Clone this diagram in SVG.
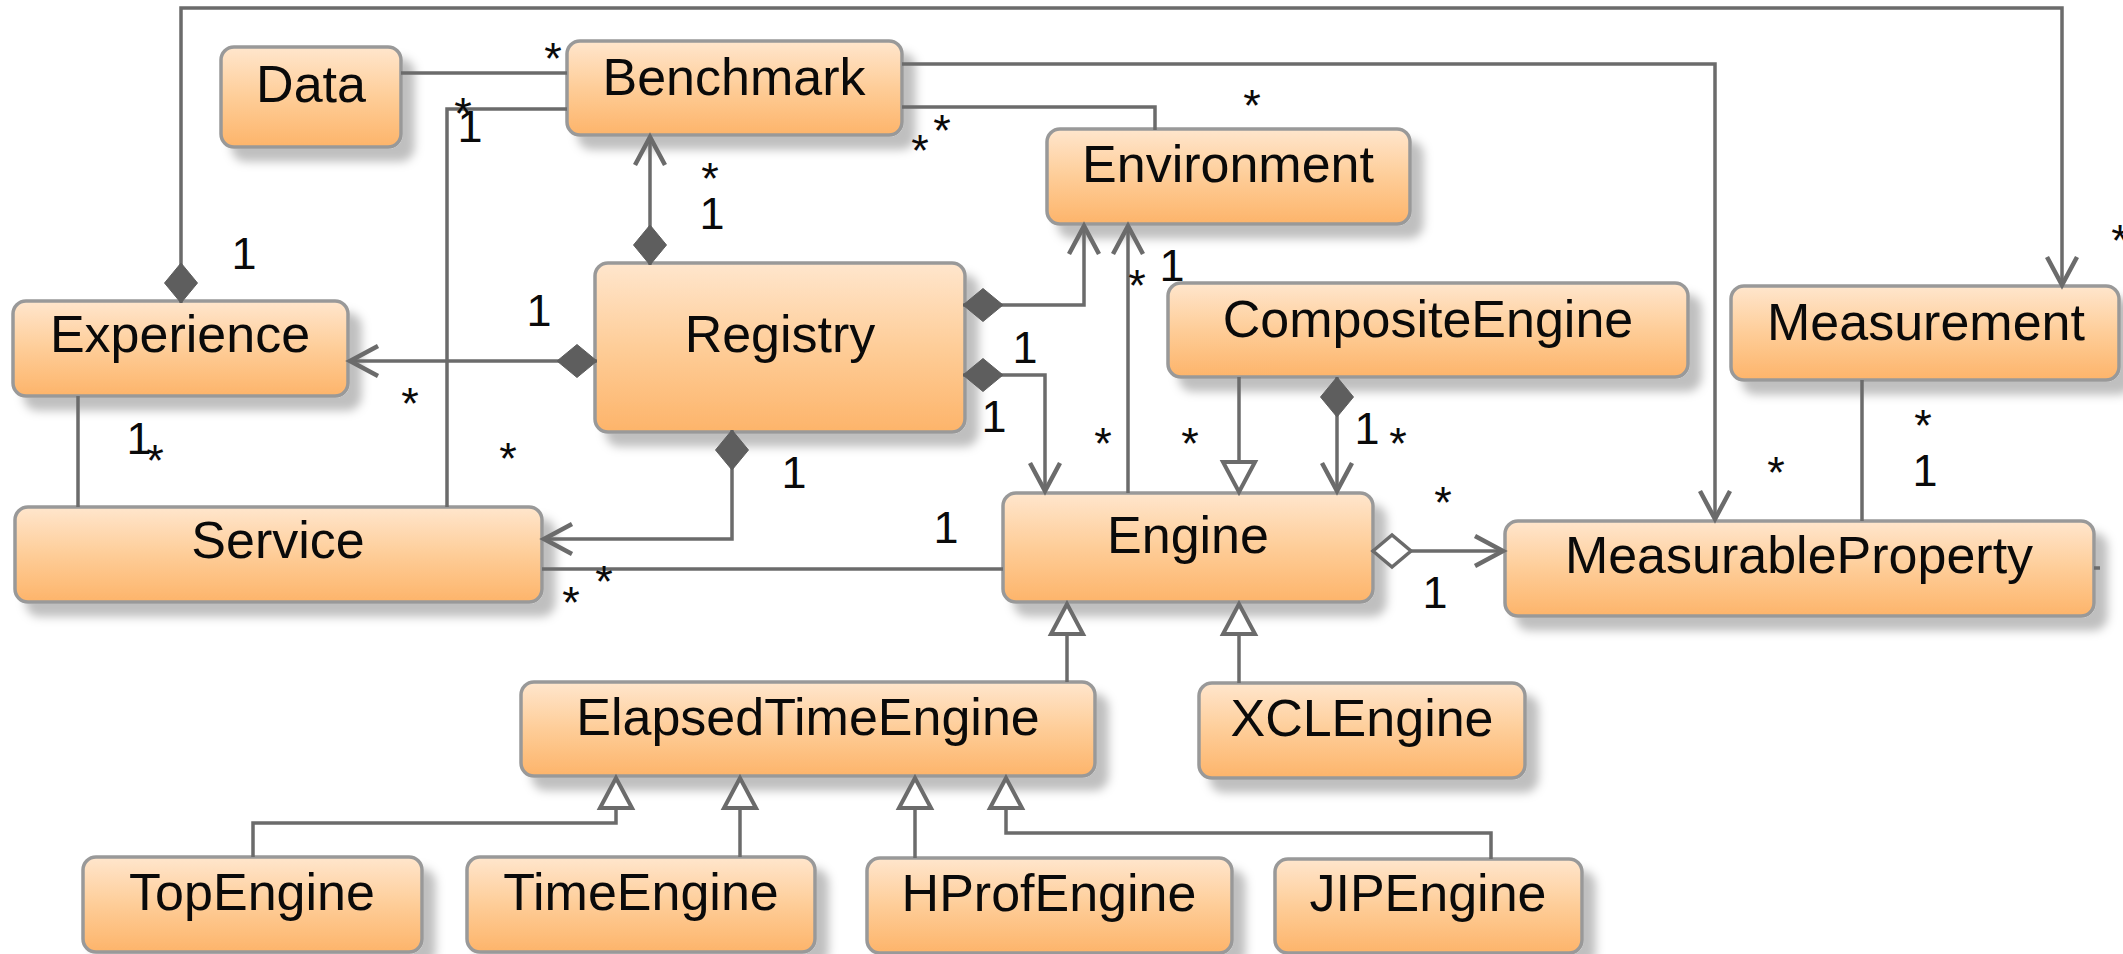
<svg xmlns="http://www.w3.org/2000/svg" width="2123" height="954" viewBox="0 0 2123 954">
  <defs>
    <linearGradient id="fill" x1="0" y1="0" x2="0" y2="1">
      <stop offset="0" stop-color="#FFE6CD"/>
      <stop offset="0.5" stop-color="#FECD98"/>
      <stop offset="1" stop-color="#FDB46A"/>
    </linearGradient>
    <filter id="shadow" x="-10%" y="-10%" width="130%" height="160%">
      <feDropShadow dx="12" dy="13" stdDeviation="5" flood-color="#000" flood-opacity="0.25"/>
    </filter>
    <!-- open navigable arrowhead -->
    <marker id="arrow" markerUnits="userSpaceOnUse" markerWidth="40" markerHeight="40" refX="0" refY="0" orient="auto" overflow="visible">
      <path d="M -28 -15 L 0 0 L -28 15" fill="none" stroke="#6b6b6b" stroke-width="4.5"/>
    </marker>
    <!-- hollow generalization triangle -->
    <marker id="tri" markerUnits="userSpaceOnUse" markerWidth="40" markerHeight="40" refX="0" refY="0" orient="auto" overflow="visible">
      <path d="M 0 0 L -30 -16 L -30 16 Z" fill="#fff" stroke="#6b6b6b" stroke-width="4"/>
    </marker>
    <!-- composition diamond -->
    <marker id="comp" markerUnits="userSpaceOnUse" markerWidth="50" markerHeight="40" refX="0" refY="0" orient="auto" overflow="visible">
      <path d="M 0 0 L 20 -16.5 L 40 0 L 20 16.5 Z" fill="#5e5e5e" stroke="#5e5e5e" stroke-width="1"/>
    </marker>
    <!-- aggregation diamond -->
    <marker id="aggr" markerUnits="userSpaceOnUse" markerWidth="50" markerHeight="40" refX="0" refY="0" orient="auto" overflow="visible">
      <path d="M 1 0 L 20 -16 L 39 0 L 20 16 Z" fill="#fff" stroke="#6b6b6b" stroke-width="3.5"/>
    </marker>
  </defs>
  <style>
    .box { fill: url(#fill); stroke: #999999; stroke-width: 3.5; filter: url(#shadow); }
    .name { font-family: "Liberation Sans", Arial, sans-serif; font-size: 52px; fill: #0a0a0a; text-anchor: middle; }
    .link { fill: none; stroke: #6b6b6b; stroke-width: 3.5; }
    .mult { font-family: "Liberation Sans", Arial, sans-serif; font-size: 45px; fill: #0a0a0a; text-anchor: middle; }
  </style>

  <rect width="2123" height="954" fill="#ffffff"/>

  <!-- classes -->
  <g id="data"><rect class="box" x="221" y="47" width="180" height="100" rx="13"/><text class="name" x="311" y="102">Data</text></g>
  <g id="benchmark"><rect class="box" x="567" y="41" width="335" height="94" rx="13"/><text class="name" x="734" y="95">Benchmark</text></g>
  <g id="environment"><rect class="box" x="1047" y="129" width="363" height="95" rx="13"/><text class="name" x="1228" y="182">Environment</text></g>
  <g id="experience"><rect class="box" x="13" y="301" width="335" height="95" rx="13"/><text class="name" x="180" y="352">Experience</text></g>
  <g id="registry"><rect class="box" x="595" y="263" width="370" height="169" rx="13"/><text class="name" x="780" y="352">Registry</text></g>
  <g id="composite-engine"><rect class="box" x="1168" y="283" width="520" height="94" rx="13"/><text class="name" x="1428" y="337">CompositeEngine</text></g>
  <g id="measurement"><rect class="box" x="1731" y="286" width="388" height="94" rx="13"/><text class="name" x="1926" y="340">Measurement</text></g>
  <g id="service"><rect class="box" x="15" y="507" width="527" height="95" rx="13"/><text class="name" x="278" y="558">Service</text></g>
  <g id="engine"><rect class="box" x="1003" y="493" width="370" height="109" rx="13"/><text class="name" x="1188" y="553">Engine</text></g>
  <g id="measurable-property"><rect class="box" x="1505" y="521" width="589" height="95" rx="13"/><text class="name" x="1799" y="573">MeasurableProperty</text></g>
  <g id="elapsed-time-engine"><rect class="box" x="521" y="682" width="574" height="94" rx="13"/><text class="name" x="808" y="735">ElapsedTimeEngine</text></g>
  <g id="xcl-engine"><rect class="box" x="1199" y="683" width="326" height="95" rx="13"/><text class="name" x="1362" y="736">XCLEngine</text></g>
  <g id="top-engine"><rect class="box" x="83" y="857" width="339" height="95" rx="13"/><text class="name" x="252" y="910">TopEngine</text></g>
  <g id="time-engine"><rect class="box" x="467" y="857" width="348" height="95" rx="13"/><text class="name" x="641" y="910">TimeEngine</text></g>
  <g id="hprof-engine"><rect class="box" x="867" y="858" width="365" height="95" rx="13"/><text class="name" x="1049" y="911">HProfEngine</text></g>
  <g id="jip-engine"><rect class="box" x="1275" y="859" width="307" height="94" rx="13"/><text class="name" x="1428" y="911">JIPEngine</text></g>

  <!-- associations, compositions and generalizations -->
  <g id="connectors">
    <path class="link" d="M 181 303 V 8 H 2062 V 285" marker-start="url(#comp)" marker-end="url(#arrow)"/>
    <path class="link" d="M 650 265 V 137" marker-start="url(#comp)" marker-end="url(#arrow)"/>
    <path class="link" d="M 401 73 H 567"/>
    <path class="link" d="M 447 507 V 109 H 567"/>
    <path class="link" d="M 78 396 V 507"/>
    <path class="link" d="M 902 107 H 1155 V 130"/>
    <path class="link" d="M 902 64 H 1715 V 519" marker-end="url(#arrow)"/>
    <path class="link" d="M 597 361 H 350" marker-start="url(#comp)" marker-end="url(#arrow)"/>
    <path class="link" d="M 963 305 H 1084 V 226" marker-start="url(#comp)" marker-end="url(#arrow)"/>
    <path class="link" d="M 963 375 H 1045 V 491" marker-start="url(#comp)" marker-end="url(#arrow)"/>
    <path class="link" d="M 732 430 V 539 H 544" marker-start="url(#comp)" marker-end="url(#arrow)"/>
    <path class="link" d="M 542 569 H 1003"/>
    <path class="link" d="M 1128 493 V 226" marker-end="url(#arrow)"/>
    <path class="link" d="M 1239 377 V 492" marker-end="url(#tri)"/>
    <path class="link" d="M 1337 377 V 491" marker-start="url(#comp)" marker-end="url(#arrow)"/>
    <path class="link" d="M 1372 551 H 1503" marker-start="url(#aggr)" marker-end="url(#arrow)"/>
    <path class="link" d="M 1862 380 V 521"/>
    <path class="link" d="M 2094 568 H 2100"/>
    <path class="link" d="M 1067 682 V 604" marker-end="url(#tri)"/>
    <path class="link" d="M 1239 683 V 604" marker-end="url(#tri)"/>
    <path class="link" d="M 253 857 V 823 H 616 V 778" marker-end="url(#tri)"/>
    <path class="link" d="M 740 857 V 778" marker-end="url(#tri)"/>
    <path class="link" d="M 915 858 V 778" marker-end="url(#tri)"/>
    <path class="link" d="M 1491 859 V 833 H 1006 V 778" marker-end="url(#tri)"/>
  </g>

  <!-- multiplicities -->
  <g id="multiplicities">
    <text class="mult" x="553" y="74">*</text>
    <text class="mult" x="463" y="129">*</text>
    <text class="mult" x="942" y="146">*</text>
    <text class="mult" x="920" y="166">*</text>
    <text class="mult" x="710" y="194">*</text>
    <text class="mult" x="1252" y="121">*</text>
    <text class="mult" x="410" y="419">*</text>
    <text class="mult" x="508" y="474">*</text>
    <text class="mult" x="155" y="476">*</text>
    <text class="mult" x="1137" y="301">*</text>
    <text class="mult" x="1103" y="459">*</text>
    <text class="mult" x="1190" y="459">*</text>
    <text class="mult" x="1398" y="459">*</text>
    <text class="mult" x="1443" y="518">*</text>
    <text class="mult" x="1776" y="488">*</text>
    <text class="mult" x="1923" y="441">*</text>
    <text class="mult" x="604" y="597">*</text>
    <text class="mult" x="571" y="618">*</text>
    <text class="mult" x="2120" y="256">*</text>

    <text class="mult" x="470" y="142">1</text>
    <text class="mult" x="712" y="229">1</text>
    <text class="mult" x="244" y="269">1</text>
    <text class="mult" x="539" y="326">1</text>
    <text class="mult" x="1025" y="363">1</text>
    <text class="mult" x="994" y="432">1</text>
    <text class="mult" x="794" y="488">1</text>
    <text class="mult" x="1172" y="281">1</text>
    <text class="mult" x="1367" y="444">1</text>
    <text class="mult" x="1435" y="608">1</text>
    <text class="mult" x="1925" y="486">1</text>
    <text class="mult" x="139" y="454">1</text>
    <text class="mult" x="946" y="543">1</text>
  </g>
</svg>
